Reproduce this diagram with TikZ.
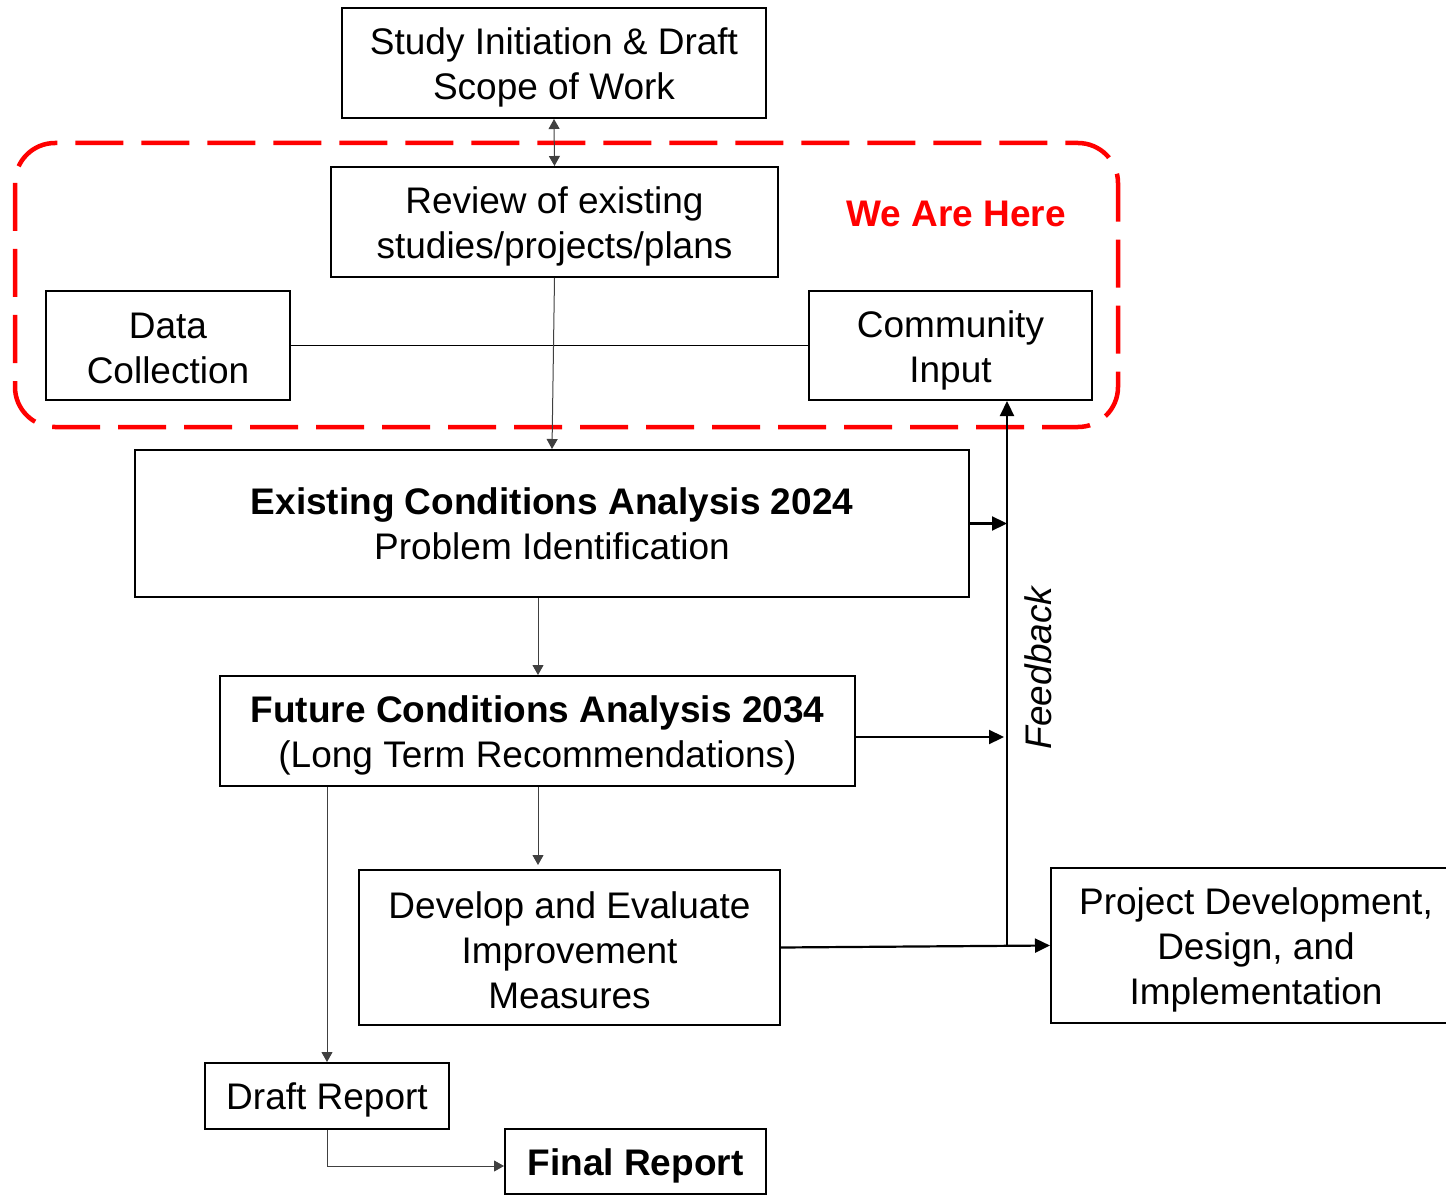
\documentclass[tikz,border=0pt]{standalone}
\usepackage{fontspec}
\setmainfont{Liberation Sans}
\usetikzlibrary{arrows.meta}
\newcommand{\topstrut}{\rule{0pt}{36pt}}
\newcommand{\midstrut}{\rule{0pt}{32pt}}
\tikzset{
  box/.style={draw=black, line width=2pt, inner sep=0pt, align=center, font=\fontsize{37}{45}\selectfont},
  onebox/.style={box, execute at begin node={\rule{0pt}{35pt}}},
  thin/.style={draw=black!75, line width=1pt, -{Triangle[length=10pt,width=11pt]}},
  thick/.style={draw=black, line width=2.2pt, -{Triangle[length=15pt,width=14pt]}},
}
\begin{document}
\begin{tikzpicture}[x=1pt,y=-1pt]
\useasboundingbox (0,0) rectangle (1446,1198);
% red dashed region
\draw[red, line width=4.5pt, dash pattern=on 48pt off 18pt, rounded corners=40pt] (15,143) rectangle (1118,427);
\node[font=\fontsize{37}{45}\selectfont\bfseries, text=red] (here) at (956,214) {We Are Here};

\node[box, minimum width=424pt, minimum height=110pt] (study) at (554,63) {\topstrut Study Initiation \& Draft\\Scope of Work};
\node[box, minimum width=447pt, minimum height=110pt] (review) at (554.5,222) {\topstrut Review of existing\\studies/projects/plans};
\node[box, minimum width=244pt, minimum height=109pt] (data) at (168,345.5) {\midstrut Data\\Collection};
\node[box, minimum width=283pt, minimum height=109pt] (comm) at (950.5,345.5) {\topstrut Community\\Input};
\node[box, minimum width=834pt, minimum height=147pt] (exist) at (552,523.5) {\textbf{Existing Conditions Analysis 2024}\\Problem Identification};
\node[box, minimum width=635pt, minimum height=110pt] (future) at (537.5,731) {\topstrut\textbf{Future Conditions Analysis 2034}\\(Long Term Recommendations)};
\node[box, minimum width=421pt, minimum height=155pt] (develop) at (569.5,947.5) {\midstrut Develop and Evaluate\\Improvement\\Measures};
\node[box, minimum width=410pt, minimum height=155pt] (project) at (1256,945.5) {\topstrut Project Development,\\Design, and\\Implementation};
\node[onebox, minimum width=244pt, minimum height=66pt] (draft) at (327,1096) {Draft Report};
\node[onebox, minimum width=261pt, minimum height=65pt, font=\fontsize{37}{45}\selectfont\bfseries] (final) at (635.5,1161.5) {Final Report};

\node[rotate=90, font=\fontsize{37}{45}\selectfont\itshape] (fbtext) at (1038,668) {Feedback};

% thin connectors
\draw[draw=black!75, line width=1pt, {Triangle[length=10pt,width=11pt]}-{Triangle[length=10pt,width=11pt]}] (study.south) -- (review.north);
\draw[draw=black, line width=1pt] (data.east) -- (comm.west);
\draw[thin] (review.south) -- (exist.north);
\draw[thin] (exist.south -| 538,0) -- (future.north -| 538,0);
\draw[thin] (future.south -| 538,0) -- ([yshift=4pt]develop.north -| 538,0);
\draw[thin] (future.south -| draft.north) -- (draft.north);
\coordinate (dr) at (327,1166);
\draw[thin] (draft.south) -- (dr) -- (dr -| final.west);

% feedback
\coordinate (fb) at (1007,945.5);
\draw[thick] (fb) -- (fb |- comm.south);
\draw[thick] (exist.east) -- (exist.east -| fb);
\draw[thick, shorten >=3pt] ([yshift=-6pt]future.east) -- ([yshift=-6pt]future.east -| fb);
\draw[thick] (develop.east) -- (project.west);
\end{tikzpicture}
\end{document}
